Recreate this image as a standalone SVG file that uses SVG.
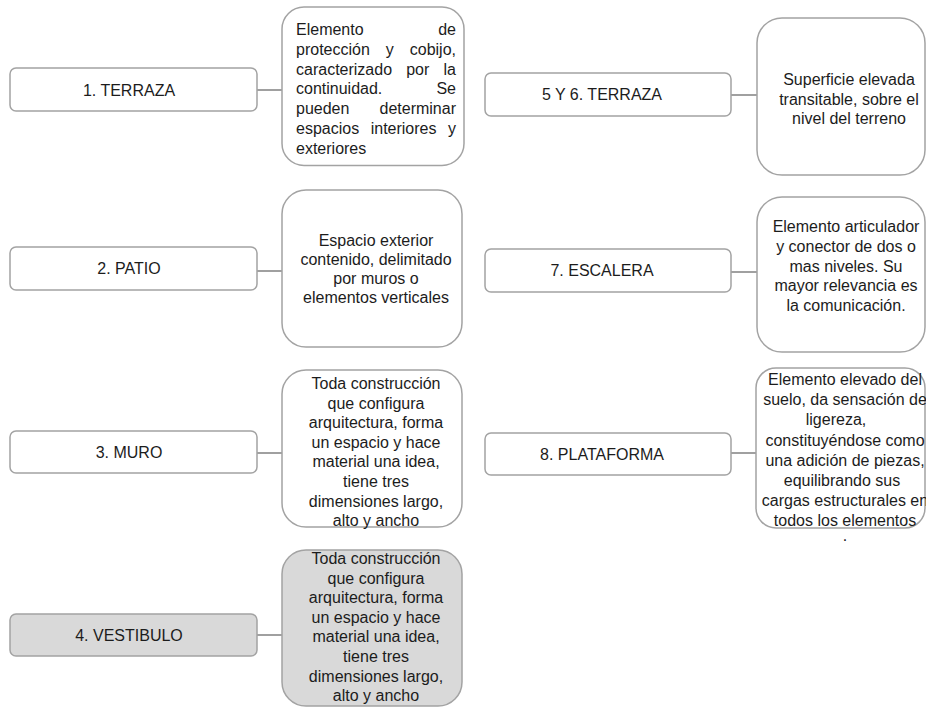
<svg xmlns="http://www.w3.org/2000/svg" width="926" height="708" viewBox="0 0 926 708">
<style>
  text { font-family: "Liberation Sans", Arial, sans-serif; font-size: 16px; fill: #1c1c1c; }
  .lbl { fill: #ffffff; stroke: #a3a3a3; stroke-width: 1.5; }
  .desc { fill: #ffffff; stroke: #a3a3a3; stroke-width: 1.5; }
  .gray { fill: #d9d9d9; }
  .c { text-anchor: middle; }
  .e { text-anchor: end; }
  .conn line { stroke: #808080; stroke-width: 1.5; }
</style>
<rect width="926" height="708" fill="#ffffff"/>

<g id="connectors" class="conn">
  <line x1="257" y1="90" x2="282" y2="90"/>
  <line x1="257" y1="271" x2="282" y2="271"/>
  <line x1="257" y1="453" x2="282" y2="453"/>
  <line x1="257" y1="635" x2="282" y2="635"/>
  <line x1="731" y1="95" x2="757" y2="95"/>
  <line x1="731" y1="272" x2="757" y2="272"/>
  <line x1="731" y1="453" x2="756" y2="453"/>
</g>

<g id="n1">
  <rect class="lbl" x="10" y="68" width="247" height="43" rx="6"/>
  <text class="c" x="129" y="96">1. TERRAZA</text>
</g>
<g id="d1">
  <rect class="desc" x="282" y="7" width="182" height="158.5" rx="22"/>
  <text x="296" y="35">Elemento</text><text class="e" x="456" y="35">de</text>
  <text x="296" y="54.8">protección</text><text x="385.8" y="54.8">y</text><text class="e" x="456" y="54.8">cobijo,</text>
  <text x="296" y="74.6">caracterizado</text><text x="406.2" y="74.6">por</text><text class="e" x="456" y="74.6">la</text>
  <text x="296" y="94.4">continuidad.</text><text class="e" x="456" y="94.4">Se</text>
  <text x="296" y="114.2">pueden</text><text class="e" x="456" y="114.2">determinar</text>
  <text x="296" y="134">espacios</text><text x="370.7" y="134">interiores</text><text class="e" x="456" y="134">y</text>
  <text x="296" y="153.8">exteriores</text>
</g>

<g id="n2">
  <rect class="lbl" x="10" y="247" width="247" height="43" rx="6"/>
  <text class="c" x="129" y="274">2. PATIO</text>
</g>
<g id="d2">
  <rect class="desc" x="282" y="190" width="180" height="157" rx="24"/>
  <text class="c" x="376" y="246">Espacio exterior</text>
  <text class="c" x="376" y="265">contenido, delimitado</text>
  <text class="c" x="376" y="284">por muros o</text>
  <text class="c" x="376" y="303">elementos verticales</text>
</g>

<g id="n3">
  <rect class="lbl" x="10" y="431" width="247" height="42" rx="6"/>
  <text class="c" x="129" y="458">3. MURO</text>
</g>
<g id="d3">
  <rect class="desc" x="282" y="370" width="180" height="157" rx="24"/>
  <text class="c" x="376" y="389">Toda construcción</text>
  <text class="c" x="376" y="408.6">que configura</text>
  <text class="c" x="376" y="428.2">arquitectura, forma</text>
  <text class="c" x="376" y="447.8">un espacio y hace</text>
  <text class="c" x="376" y="467.4">material una idea,</text>
  <text class="c" x="376" y="487">tiene tres</text>
  <text class="c" x="376" y="506.6">dimensiones largo,</text>
  <text class="c" x="376" y="526.2">alto y ancho</text>
</g>

<g id="n4">
  <rect class="lbl gray" x="10" y="614" width="247" height="42" rx="6"/>
  <text class="c" x="129" y="641">4. VESTIBULO</text>
</g>
<g id="d4">
  <rect class="desc gray" x="282" y="550" width="180" height="156" rx="24"/>
  <text class="c" x="376" y="564">Toda construcción</text>
  <text class="c" x="376" y="583.6">que configura</text>
  <text class="c" x="376" y="603.2">arquitectura, forma</text>
  <text class="c" x="376" y="622.8">un espacio y hace</text>
  <text class="c" x="376" y="642.4">material una idea,</text>
  <text class="c" x="376" y="662">tiene tres</text>
  <text class="c" x="376" y="681.6">dimensiones largo,</text>
  <text class="c" x="376" y="701.2">alto y ancho</text>
</g>

<g id="n5">
  <rect class="lbl" x="485" y="73" width="246" height="43" rx="6"/>
  <text class="c" x="602" y="100">5 Y 6. TERRAZA</text>
</g>
<g id="d5">
  <rect class="desc" x="757" y="18" width="168" height="157" rx="25"/>
  <text class="c" x="849" y="85">Superficie elevada</text>
  <text class="c" x="849" y="104.5">transitable, sobre el</text>
  <text class="c" x="849" y="124">nivel del terreno</text>
</g>

<g id="n7">
  <rect class="lbl" x="485" y="249" width="246" height="43" rx="6"/>
  <text class="c" x="602" y="276">7. ESCALERA</text>
</g>
<g id="d7">
  <rect class="desc" x="757" y="197" width="168" height="155" rx="25"/>
  <text class="c" x="846" y="232">Elemento articulador</text>
  <text class="c" x="846" y="252">y conector de dos o</text>
  <text class="c" x="846" y="272">mas niveles. Su</text>
  <text class="c" x="846" y="291">mayor relevancia es</text>
  <text class="c" x="846" y="311">la comunicación.</text>
</g>

<g id="n8">
  <rect class="lbl" x="485" y="433" width="246" height="42" rx="6"/>
  <text class="c" x="602" y="460">8. PLATAFORMA</text>
</g>
<g id="d8">
  <rect class="desc" x="756" y="368" width="169" height="160" rx="20"/>
  <text class="c" x="845" y="385">Elemento elevado del</text>
  <text class="c" x="845" y="405.2">suelo, da sensación de</text>
  <text class="c" x="836" y="425.4">ligereza,</text>
  <text class="c" x="845" y="445.6">constituyéndose como</text>
  <text class="c" x="845" y="465.8">una adición de piezas,</text>
  <text class="c" x="842" y="486">equilibrando sus</text>
  <text class="c" x="845" y="506.2">cargas estructurales en</text>
  <text class="c" x="845" y="526.4">todos los elementos</text>
  <text class="c" x="845" y="541">.</text>
</g>
</svg>
